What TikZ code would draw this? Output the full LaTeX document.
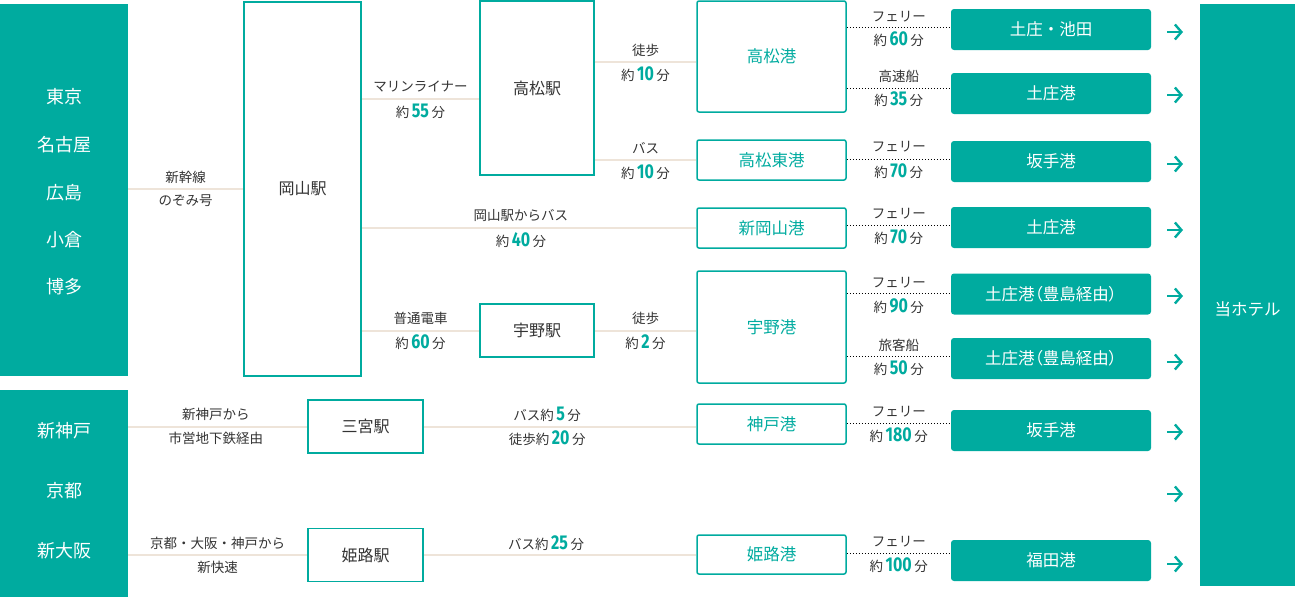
\documentclass[tikz,border=0pt]{standalone}
\usepackage{fontspec}
\setmainfont{Noto Sans CJK JP}
\newfontfamily\numfont{Fira Sans}[FakeStretch=0.8]
\usetikzlibrary{arrows.meta}
\definecolor{hotelteal}{HTML}{00AB9F}
\definecolor{routebeige}{HTML}{EEE4D9}
\definecolor{labelgray}{HTML}{333333}
\newcommand{\tnum}[1]{\hspace{2.5pt}{\numfont\bfseries\fontsize{20}{20}\selectfont\color{hotelteal}#1}\hspace{2.5pt}}
\newcommand{\aboutmin}[1]{約\tnum{#1}分}

\begin{document}
\begin{tikzpicture}[
  x=1pt, y=-1pt,
  every node/.style={font=\fontsize{13.5}{16}\selectfont,text=labelgray},
  area node/.style={rectangle,fill=hotelteal,inner sep=0pt,minimum width=128pt},
  area text/.style={font=\fontsize{18}{20}\selectfont,text=white},
  station node/.style={rectangle,draw=hotelteal,line width=1.5pt,inner sep=0pt,font=\fontsize{16}{18}\selectfont},
  port node/.style={rectangle,rounded corners=2pt,draw=hotelteal,line width=1.5pt,inner sep=0pt,minimum width=149pt,text=hotelteal,font=\fontsize{16.5}{18}\selectfont},
  dest node/.style={rectangle,rounded corners=3pt,fill=hotelteal,inner sep=0pt,minimum width=200pt,minimum height=41pt,text=white,font=\fontsize{16.5}{18}\selectfont},
  tight/.style={font=\fontsize{16.5}{18}\selectfont\addfontfeatures{RawFeature=+palt}},
  route/.style={draw=routebeige,line width=2pt},
  ferry/.style={draw=black,line width=0.9pt,dash pattern=on 0.9pt off 2.1pt},
  upper/.style={yshift=12pt},
  lower/.style={yshift=-12pt},
  goto/.style={draw=hotelteal,line width=2.4pt,-{Straight Barb[length=6.5pt,width=15pt]}},
]
\useasboundingbox (0,0) rectangle (1295,597);

% departure areas
\node[area node,minimum height=372pt] (west) at (64,190) {};
\node[area node,minimum height=207pt] (kansai) at (64,493.5) {};
\node[area text] (tokyo) at (64,97) {東京};
\node[area text] (nagoya) at (64,145) {名古屋};
\node[area text] (hiroshima) at (64,193) {広島};
\node[area text] (kokura) at (64,240) {小倉};
\node[area text] (hakata) at (64,287) {博多};
\node[area text] (shinkobe) at (64,431) {新神戸};
\node[area text] (kyoto) at (64,491) {京都};
\node[area text] (shinosaka) at (64,551) {新大阪};

% stations
\node[station node,minimum width=117pt,minimum height=374pt] (okayama) at (302.5,189) {岡山駅};
\node[station node,minimum width=114pt,minimum height=174pt] (takaeki) at (537,88) {高松駅};
\node[station node,minimum width=114pt,minimum height=53pt] (unoeki) at (537,330.5) {宇野駅};
\node[station node,minimum width=115pt,minimum height=53pt] (sannomiya) at (365.5,426.5) {三宮駅};
\node[station node,minimum width=115pt,minimum height=53pt] (himeji) at (365.5,555) {姫路駅};

% ports
\node[port node,minimum height=111pt] (takako) at (771.5,56.5) {高松港};
\node[port node,minimum height=40pt] (takahigashi) at (771.5,160) {高松東港};
\node[port node,minimum height=40pt] (shinokayama) at (771.5,228) {新岡山港};
\node[port node,minimum height=112pt] (unoko) at (771.5,327) {宇野港};
\node[port node,minimum height=40pt] (kobeko) at (771.5,424) {神戸港};
\node[port node,minimum height=39pt] (himejiko) at (771.5,554.5) {姫路港};

% island ports
\node[dest node] (d1) at (1051,29.5) {土庄・池田};
\node[dest node] (d2) at (1051,93.5) {土庄港};
\node[dest node] (d3) at (1051,161.5) {坂手港};
\node[dest node] (d4) at (1051,227.5) {土庄港};
\node[dest node,tight] (d5) at (1051,294) {土庄港（豊島経由）};
\node[dest node,tight] (d6) at (1051,358.5) {土庄港（豊島経由）};
\node[dest node] (d7) at (1051,430.5) {坂手港};
\node[dest node] (d8) at (1051,560.5) {福田港};

% hotel
\node[area node,minimum width=95pt,minimum height=582pt] (hotel) at (1247.5,295) {};
\node[area text,font=\fontsize{16.5}{18}\selectfont] (hoteltext) at (1247.5,309) {当ホテル};

% routes
\draw[route] (west.east |- okayama.west) -- node[pos=.5,upper] {新幹線} node[pos=.5,lower] {のぞみ号} (okayama.west);
\draw[route] (okayama.east |- 0,99) -- node[pos=.5,upper] {マリンライナー} node[pos=.5,lower] {\aboutmin{55}} (takaeki.west |- 0,99);
\draw[route] (okayama.east |- shinokayama.west) -- node[pos=.476,upper] {岡山駅からバス} node[pos=.476,lower] {\aboutmin{40}} (shinokayama.west);
\draw[route] (okayama.east |- unoeki.west) -- node[pos=.5,upper] {普通電車} node[pos=.5,lower] {\aboutmin{60}} (unoeki.west);
\draw[route] (takaeki.east |- 0,62) -- node[pos=.5,upper] {徒歩} node[pos=.5,lower] {\aboutmin{10}} (takako.west |- 0,62);
\draw[route] (takaeki.east |- takahigashi.west) -- node[pos=.5,upper] {バス} node[pos=.5,lower] {\aboutmin{10}} (takahigashi.west);
\draw[route] (unoeki.east) -- node[pos=.5,upper] {徒歩} node[pos=.5,lower] {\aboutmin{2}} (unoeki.east -| unoko.west);
\draw[route] (kansai.east |- sannomiya.west) -- node[pos=.49,upper] {新神戸から} node[pos=.49,lower] {市営地下鉄経由} (sannomiya.west);
\draw[route] (sannomiya.east) -- node[pos=.453,upper] {バス約\tnum{5}分} node[pos=.453,lower] {徒歩約\tnum{20}分} (sannomiya.east -| kobeko.west);
\draw[route] (kansai.east |- himeji.west) -- node[pos=.5,upper] {京都・大阪・神戸から} node[pos=.5,lower] {新快速} (himeji.west);
\draw[route] (himeji.east) -- node[pos=.449,upper] {バス約\tnum{25}分} (himeji.east -| himejiko.west);

% ferries
\draw[ferry] (takako.east |- 0,27) -- node[pos=.5,yshift=10pt] {フェリー} node[pos=.5,lower] {\aboutmin{60}} (d1.west |- 0,27);
\draw[ferry] (takako.east |- 0,88) -- node[pos=.5,upper] {高速船} node[pos=.5,yshift=-11pt] {\aboutmin{35}} (d2.west |- 0,88);
\draw[ferry] (takahigashi.east |- 0,159) -- node[pos=.5,upper] {フェリー} node[pos=.5,lower] {\aboutmin{70}} (d3.west |- 0,159);
\draw[ferry] (shinokayama.east |- 0,225) -- node[pos=.5,yshift=11pt] {フェリー} node[pos=.5,lower] {\aboutmin{70}} (d4.west |- 0,225);
\draw[ferry] (unoko.east |- 0,293) -- node[pos=.5,yshift=10pt] {フェリー} node[pos=.5,yshift=-13pt] {\aboutmin{90}} (d5.west |- 0,293);
\draw[ferry] (unoko.east |- 0,356) -- node[pos=.5,yshift=11pt] {旅客船} node[pos=.5,lower] {\aboutmin{50}} (d6.west |- 0,356);
\draw[ferry] (kobeko.east |- 0,423) -- node[pos=.5,yshift=11pt] {フェリー} node[pos=.5,lower] {\aboutmin{180}} (d7.west |- 0,423);
\draw[ferry] (himejiko.east |- 0,553) -- node[pos=.5,yshift=11pt] {フェリー} node[pos=.5,lower] {\aboutmin{100}} (d8.west |- 0,553);

% arrows to the hotel
\foreach \y [count=\i] in {32,95,164,230,296,362,432,494,564}
  \draw[goto] (1167,\y) coordinate (go\i) -- ++(16,0);
\end{tikzpicture}
\end{document}
